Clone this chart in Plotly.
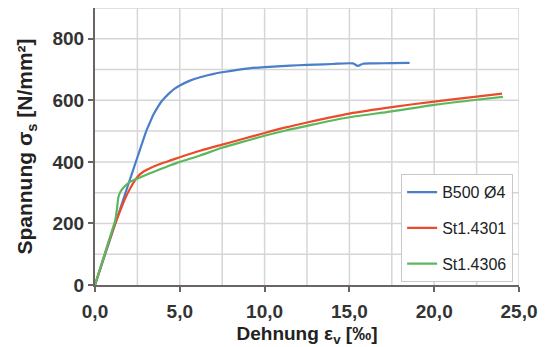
import plotly.graph_objects as go

# Strain [‰] and stress [N/mm²] for each material
b500_strain = [0, 1.0, 2.0, 2.5, 2.75, 3.0, 3.2, 3.44, 3.7, 3.93, 4.2, 4.42, 4.7, 5.0, 5.6, 6.2, 7.0, 7.6, 8.4, 9.1, 10.0, 11.0, 12.0, 13.0, 14.0, 15.2, 15.5, 15.8, 16.5, 17.5, 18.55]
b500_stress = [0, 167, 333, 415, 456, 497, 523, 553, 578, 597, 613, 625, 638, 648, 664, 675, 686, 692, 699, 704, 708, 711, 714, 716, 718, 720, 712, 719, 720, 721, 722]

st4301_strain = [0, 0.5, 1.08, 1.5, 1.77, 2.0, 2.26, 2.55, 2.85, 3.3, 3.83, 4.4, 5.0, 6.2, 7.5, 8.75, 10.0, 11.25, 12.5, 13.75, 15.0, 17.5, 20.0, 22.5, 24.0]
st4301_stress = [0, 87, 182, 243, 280, 306, 332, 354, 368, 381, 393, 404, 415, 436, 456, 475, 494, 512, 528, 543, 557, 578, 596, 612, 622]

st4306_strain = [0, 0.5, 1.0, 1.2, 1.3, 1.38, 1.5, 1.7, 2.06, 2.65, 3.2, 3.83, 4.4, 5.0, 6.2, 7.5, 8.75, 10.0, 11.25, 12.5, 13.75, 15.0, 17.5, 20.0, 22.5, 24.05]
st4306_stress = [0, 88, 176, 212, 250, 285, 303, 318, 335, 349, 362, 376, 388, 400, 421, 446, 466, 485, 502, 517, 532, 545, 564, 585, 602, 611]

series = [
    ("B500 Ø4", b500_strain, b500_stress, "#4a7ec9"),
    ("St1.4301", st4301_strain, st4301_stress, "#ea4b2c"),
    ("St1.4306", st4306_strain, st4306_stress, "#5cb85c"),
]

x_ticks = [0, 5, 10, 15, 20, 25]
x_tick_labels = ["0,0", "5,0", "10,0", "15,0", "20,0", "25,0"]
y_ticks = [0, 200, 400, 600, 800]

fig = go.Figure()
for i, (name, xs, ys, color) in enumerate(series):
    fig.add_trace(go.Scatter(
        x=xs, y=ys, mode="lines", name=name, legendgroup=f"g{i}",
        line=dict(color=color, width=2.2, shape="spline", smoothing=0.7),
    ))

font_family = "Liberation Sans, Arial, sans-serif"
grid_color = "#d6d6d6"
axis_color = "#6a6462"

fig.update_layout(
    width=549, height=347,
    margin=dict(l=95, r=30, t=8, b=62),
    paper_bgcolor="white", plot_bgcolor="white",
    font=dict(family=font_family, color="#2b2b2b"),
    showlegend=True,
    legend=dict(
        x=0.722, y=0.40, xanchor="left", yanchor="top",
        bgcolor="white", bordercolor="#c8c8c8", borderwidth=1,
        font=dict(size=16, color="#222222", family=font_family),
        traceorder="grouped", tracegroupgap=12,
        itemwidth=30,
    ),
    xaxis=dict(
        range=[0, 25], tickvals=x_ticks, ticktext=x_tick_labels,
        showgrid=False, automargin=False,
        showline=True, linecolor=axis_color, linewidth=2,
        ticks="outside", ticklen=5, tickcolor=axis_color, tickwidth=1.5,
        ticklabelstandoff=3,
        tickfont=dict(size=19, family=font_family, weight="bold", color="#333333"),
        title=dict(text="Dehnung ε<sub>v</sub> [‰]", standoff=8,
                   font=dict(size=19, family=font_family, weight="bold", color="#222222")),
        zeroline=False,
    ),
    yaxis=dict(
        range=[0, 900], tickvals=y_ticks,
        showgrid=False, automargin=False,
        showline=True, linecolor=axis_color, linewidth=2,
        ticks="outside", ticklen=5, tickcolor=axis_color, tickwidth=1.5,
        tickfont=dict(size=19, family=font_family, weight="bold", color="#333333"),
        title=dict(text="Spannung σ<sub>s</sub> [N/mm²]", standoff=14,
                   font=dict(size=21, family=font_family, weight="bold", color="#222222")),
        zeroline=False,
    ),
)

# Grid every 2.5 ‰ and every 100 N/mm²
for gx in [2.5 * k for k in range(1, 11)]:
    fig.add_shape(type="line", xref="x", yref="y", x0=gx, x1=gx, y0=0, y1=900,
                  line=dict(color=grid_color, width=1.5), layer="below")
for gy in range(100, 1000, 100):
    fig.add_shape(type="line", xref="x", yref="y", x0=0, x1=25, y0=gy, y1=gy,
                  line=dict(color=grid_color, width=1.5), layer="below")

fig.write_html("out.html")
